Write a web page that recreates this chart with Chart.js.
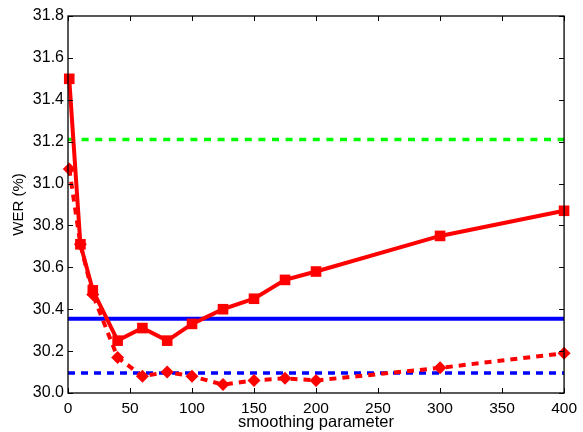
<!DOCTYPE html>
<html>
<head>
<meta charset="utf-8">
<script src="https://cdn.jsdelivr.net/npm/chart.js@4.4.0/dist/chart.umd.min.js"></script>
<style>
  html, body { margin: 0; padding: 0; background: #fff; }
</style>
</head>
<body>
<canvas id="wer-chart" width="583" height="432"></canvas>
<script>
// smoothing parameter values on the x axis
const smoothing = [1, 10, 20, 40, 60, 80, 100, 125, 150, 175, 200, 300, 400];
// solid red line with squares
const werSquares = [31.50, 30.71, 30.49, 30.25, 30.31, 30.25, 30.33, 30.40, 30.45, 30.54, 30.58, 30.75, 30.87];
// dashed red line with diamonds
const werDiamonds = [31.07, 30.71, 30.47, 30.17, 30.08, 30.10, 30.08, 30.04, 30.06, 30.07, 30.06, 30.12, 30.19];
// flat reference lines
const blueSolid = 30.355;
const blueDashed = 30.095;
const greenDashed = 31.21;
// axis ranges / ticks
const xRange = [0, 400];
const xStep = 50;
const yRange = [30.0, 31.8];
const yStep = 0.2;

const font = 'Liberation Sans, Arial, sans-serif';

function toPoints(xs, ys) {
    return xs.map((x, i) => ({ x: x, y: ys[i] }));
}
function flat(y) {
    return xRange.map(x => ({ x: x, y: y }));
}

// black box round the plot with inward tick marks on every side
const framePlugin = {
    id: 'frame',
    afterDraw(chart) {
        const ctx = chart.ctx;
        const a = chart.chartArea;
        const xs = chart.scales.x, ys = chart.scales.y;
        const len = 5;
        ctx.save();
        ctx.strokeStyle = '#000';
        ctx.lineWidth = 1;
        ctx.beginPath();
        xs.ticks.forEach(t => {
            const px = Math.round(xs.getPixelForValue(t.value)) + 0.5;
            ctx.moveTo(px, a.bottom); ctx.lineTo(px, a.bottom - len);
            ctx.moveTo(px, a.top); ctx.lineTo(px, a.top + len);
        });
        ys.ticks.forEach(t => {
            const py = Math.round(ys.getPixelForValue(t.value)) + 0.5;
            ctx.moveTo(a.left, py); ctx.lineTo(a.left + len, py);
            ctx.moveTo(a.right, py); ctx.lineTo(a.right - len, py);
        });
        ctx.stroke();
        ctx.lineWidth = 1.3;
        ctx.strokeRect(a.left, a.top, a.right - a.left, a.bottom - a.top);
        ctx.restore();
    }
};

new Chart(document.getElementById('wer-chart').getContext('2d'), {
    type: 'line',
    data: {
        datasets: [
            {
                data: toPoints(smoothing, werSquares),
                borderColor: '#ff0000',
                backgroundColor: '#ff0000',
                borderWidth: 4,
                pointStyle: 'rect',
                pointRadius: 7.5,
                pointBorderWidth: 0,
                clip: false
            },
            {
                data: toPoints(smoothing, werDiamonds),
                borderColor: '#ff0000',
                backgroundColor: '#ff0000',
                borderWidth: 4,
                borderDash: [7, 6],
                pointStyle: 'rectRot',
                pointRadius: 6.5,
                pointBorderWidth: 0,
                clip: false
            },
            {
                data: flat(blueSolid),
                borderColor: '#0000ff',
                borderWidth: 4,
                pointRadius: 0
            },
            {
                data: flat(blueDashed),
                borderColor: '#0000ff',
                borderWidth: 3.5,
                borderDash: [7, 6],
                pointRadius: 0
            },
            {
                data: flat(greenDashed),
                borderColor: '#00ff00',
                borderWidth: 3.5,
                borderDash: [7, 6.6],
                pointRadius: 0
            }
        ]
    },
    options: {
        responsive: false,
        animation: false,
        layout: { padding: { top: 16, right: 17, left: 0, bottom: 0 } },
        plugins: {
            legend: { display: false },
            tooltip: { enabled: false }
        },
        elements: { line: { tension: 0, borderCapStyle: 'butt' } },
        scales: {
            x: {
                type: 'linear',
                min: xRange[0],
                max: xRange[1],
                grid: { display: false, drawTicks: false },
                border: { display: false },
                ticks: {
                    stepSize: xStep,
                    padding: 6,
                    color: '#000',
                    maxRotation: 0,
                    font: { family: font, size: 15.5 }
                },
                title: {
                    display: true,
                    text: 'smoothing parameter',
                    color: '#000',
                    padding: { top: 0, bottom: 0 },
                    font: { family: font, size: 16.5 }
                },
                afterFit(scale) { scale.height = 39; }
            },
            y: {
                min: yRange[0],
                max: yRange[1],
                grid: { display: false, drawTicks: false },
                border: { display: false },
                ticks: {
                    stepSize: yStep,
                    padding: 4,
                    color: '#000',
                    font: { family: font, size: 16 },
                    callback: v => Number(v).toFixed(1)
                },
                title: {
                    display: true,
                    text: 'WER (%)',
                    color: '#000',
                    padding: { top: 10, bottom: 0 },
                    font: { family: font, size: 15 }
                },
                afterFit(scale) { scale.width = 68; }
            }
        }
    },
    plugins: [framePlugin]
});
</script>
</body>
</html>
